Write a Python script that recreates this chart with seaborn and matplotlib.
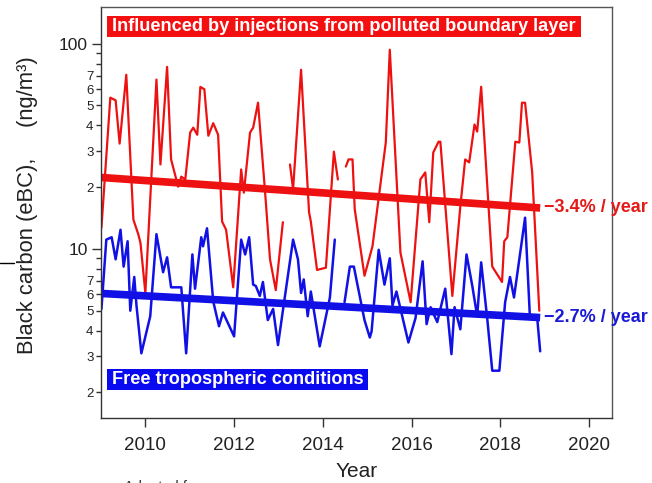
import numpy as np
import pandas as pd
import matplotlib
matplotlib.use("Agg")
import matplotlib.pyplot as plt
from matplotlib.lines import Line2D
from matplotlib.patches import Rectangle
import seaborn as sns

# Monthly eBC (ng/m3) at decimal-year positions; None marks missing data
pbl_years = [2009.01, 2009.21, 2009.33, 2009.42, 2009.57, 2009.73, 2009.84, 2009.89,
             2010.00, 2010.25, 2010.34, 2010.49, 2010.58, 2010.74, 2010.81, 2010.90,
             2011.01, 2011.08, 2011.17, 2011.24, 2011.33, 2011.42, 2011.53, 2011.64,
             2011.73, 2011.82, 2011.98, 2012.16, 2012.22, 2012.36, 2012.43, 2012.54,
             2012.70, 2012.81, 2012.94, 2013.10, None,
             2013.26, 2013.33, 2013.51, 2013.69, 2013.73, 2013.87, 2014.07, 2014.25,
             2014.34, None,
             2014.52, 2014.58, 2014.67, 2014.72, 2014.94, 2015.12, 2015.42, 2015.51,
             2015.75, 2015.98, 2016.20, 2016.31, 2016.40, 2016.49, 2016.61, 2016.65,
             2016.92, 2017.10, 2017.21, 2017.30, 2017.42, 2017.48, 2017.57, 2017.82,
             2018.04, 2018.09, 2018.16, 2018.34, 2018.43, 2018.49, 2018.56, 2018.72,
             2018.88]
pbl_ebc = [12.7, 54.6, 53.0, 32.6, 70.6, 13.9, 11.8, 10.7,
           6.1, 66.9, 25.8, 77.1, 27.3, 20.1, 22.5, 21.8,
           36.9, 39.0, 36.0, 61.6, 60.0, 35.6, 41.0, 36.0,
           13.6, 12.4, 6.5, 24.4, 18.8, 36.9, 39.0, 51.6,
           18.8, 8.9, 6.3, 13.5, None,
           25.8, 19.5, 74.7, 15.1, 13.6, 7.9, 8.1, 29.8,
           21.8, None,
           25.2, 27.3, 27.3, 15.6, 7.4, 10.3, 33.0, 93.5,
           9.6, 5.5, 21.8, 23.6, 13.5, 29.5, 33.3, 33.3,
           5.9, 16.1, 27.3, 26.4, 40.4, 37.3, 61.7, 8.2,
           6.9, 10.9, 11.4, 33.3, 33.0, 51.6, 51.6, 23.6,
           5.0]

ft_years = [2009.01, 2009.12, 2009.24, 2009.33, 2009.44, 2009.51, 2009.60, 2009.66,
            2009.75, 2009.80, 2009.91, 2010.11, 2010.25, 2010.40, 2010.49, 2010.58,
            2010.81, 2010.92, 2011.06, 2011.12, 2011.26, 2011.30, 2011.39, 2011.53,
            2011.66, 2011.75, 2012.00, 2012.16, 2012.25, 2012.34, 2012.43, 2012.49,
            2012.58, 2012.65, 2012.76, 2012.88, 2012.99, 2013.10, 2013.33, 2013.44,
            2013.51, 2013.57, 2013.66, 2013.73, 2013.93, 2014.16, 2014.27, None,
            2014.49, 2014.61, 2014.70, 2014.94, 2015.06, 2015.10, 2015.26, 2015.39,
            2015.51, 2015.57, 2015.66, 2015.93, 2016.09, 2016.25, 2016.34, 2016.43,
            2016.58, 2016.76, 2016.90, 2016.97, 2017.10, 2017.24, 2017.37, 2017.48,
            2017.57, 2017.71, 2017.82, 2017.98, 2018.11, 2018.22, 2018.31, 2018.56,
            2018.67, 2018.83, 2018.90]
ft_ebc = [5.1, 11.1, 11.4, 8.9, 12.4, 8.2, 10.9, 5.0,
          7.3, 5.3, 3.1, 4.7, 11.8, 7.7, 9.1, 6.5,
          6.5, 3.1, 9.4, 6.4, 11.4, 10.3, 12.6, 5.55,
          4.2, 4.9, 3.75, 11.1, 9.4, 11.4, 6.7, 6.6,
          5.9, 6.9, 4.5, 5.1, 3.4, 5.0, 11.1, 8.9,
          6.1, 7.1, 4.7, 6.2, 3.35, 5.8, 11.1, None,
          5.5, 8.2, 8.2, 4.5, 3.7, 3.97, 9.9, 6.7,
          9.0, 5.3, 6.2, 3.5, 4.6, 8.7, 4.3, 5.2,
          4.4, 6.4, 3.07, 5.2, 4.06, 9.4, 6.6, 4.7,
          8.6, 4.5, 2.55, 2.55, 5.5, 7.3, 5.8, 14.2,
          4.6, 4.7, 3.17]

# Linear trends in log space (percent change per year)
trend_years = [2009.0, 2018.9]
pbl_trend_start = 22.3
ft_trend_start = 6.07
pbl_rate = -3.4
ft_rate = -2.7

pbl_label = "Influenced by injections from polluted boundary layer"
ft_label = "Free tropospheric conditions"

x_ticks = [2010, 2012, 2014, 2016, 2018, 2020]
y_major = [10, 100]
y_minor = [2, 3, 4, 5, 6, 7, 8, 9, 20, 30, 40, 50, 60, 70, 80, 90]
y_minor_labels = ["2", "3", "4", "5", "6", "7", "", "",
                  "2", "3", "4", "5", "6", "7", "", ""]

RED = "#EE1111"
BLUE = "#1111E6"


def segments(years, values):
    rows, seg = [], 0
    for t, v in zip(years, values):
        if v is None:
            seg += 1
            continue
        rows.append((t, v, seg))
    return pd.DataFrame(rows, columns=["year", "ebc", "segment"])


def trend(start, rate):
    t0 = trend_years[0]
    vals = [start * (1 + rate / 100) ** (t - t0) for t in trend_years]
    return pd.DataFrame({"year": trend_years, "ebc": vals, "segment": 0})


sns.set_theme(style="ticks")
plt.rcParams["font.family"] = ["Liberation Sans", "DejaVu Sans"]

fig = plt.figure(figsize=(6.52, 4.83), dpi=100)
ax = fig.add_axes([0.1549, 0.1346, 0.7838, 0.8509])

pbl_df = segments(pbl_years, pbl_ebc)
ft_df = segments(ft_years, ft_ebc)
pbl_tr = trend(pbl_trend_start, pbl_rate)
ft_tr = trend(ft_trend_start, ft_rate)

sns.lineplot(data=pbl_df, x="year", y="ebc", units="segment", estimator=None,
             color=RED, lw=1.6, ax=ax)
sns.lineplot(data=ft_df, x="year", y="ebc", units="segment", estimator=None,
             color=BLUE, lw=1.8, ax=ax)
sns.lineplot(data=pbl_tr, x="year", y="ebc", color=RED, lw=5.5, ax=ax,
             solid_capstyle="butt")
sns.lineplot(data=ft_tr, x="year", y="ebc", color=BLUE, lw=5.5, ax=ax,
             solid_capstyle="butt")

ax.set_yscale("log")
ax.set_xlim(2009.0, 2020.52)
ax.set_ylim(1.5, 151)

ax.set_xticks(x_ticks)
ax.set_xticklabels([str(t) for t in x_ticks])
ax.set_yticks(y_major)
ax.set_yticklabels([str(t) for t in y_major])
ax.set_yticks(y_minor, labels=y_minor_labels, minor=True)
ax.xaxis.set_minor_locator(matplotlib.ticker.NullLocator())

ax.tick_params(axis="x", direction="out", length=6.5, width=1.0, pad=7,
               labelsize=13.5, colors="#333333", labelcolor="#222222")
ax.tick_params(axis="y", which="major", direction="out", length=6.5, width=1.0,
               pad=3, labelsize=12.5, colors="#333333", labelcolor="#222222")
ax.tick_params(axis="y", which="minor", direction="out", length=3.5, width=1.0,
               pad=2, labelsize=9.5, colors="#333333", labelcolor="#222222")

for name, sp in ax.spines.items():
    sp.set_visible(True)
    sp.set_linewidth(1.0)
    sp.set_color("#333333" if name in ("left", "bottom") else "#555555")

ax.set_xlabel("Year", fontsize=15, color="#222222")
ax.set_ylabel("Black carbon (eBC),     (ng/m\u00b3)", fontsize=15.8, color="#222222")
ax.xaxis.set_label_coords(0.5, -0.108)
ax.yaxis.set_label_coords(-0.124, 0.518)

# Category tags
ax.add_patch(Rectangle((0.0117, 0.927), 0.928, 0.051, transform=ax.transAxes,
                       facecolor="#F41010", edgecolor="none", zorder=5))
ax.text(0.0215, 0.9525, pbl_label, transform=ax.transAxes, color="white",
        fontsize=13.1, fontweight="bold", va="center", ha="left", zorder=6)
ax.add_patch(Rectangle((0.0117, 0.068), 0.511, 0.051, transform=ax.transAxes,
                       facecolor="#0A0AF0", edgecolor="none", zorder=5))
ax.text(0.0215, 0.0935, ft_label, transform=ax.transAxes, color="white",
        fontsize=13.1, fontweight="bold", va="center", ha="left", zorder=6)

# Trend annotations at the end of each fitted line
for df, rate, col in [(pbl_tr, pbl_rate, "#E41A1A"), (ft_tr, ft_rate, "#1A1AD6")]:
    ax.annotate(f"\u2212{abs(rate)}% / year", xy=(df["year"].iloc[-1], df["ebc"].iloc[-1]),
                xytext=(3, 0), textcoords="offset points", va="center", ha="left",
                color=col, fontsize=13, fontweight="bold", annotation_clip=False)

fig.add_artist(Line2D([0, 14 / 652], [1 - 263 / 483] * 2, transform=fig.transFigure,
                      color="black", lw=1.0))
fig.text(124 / 652, -8 / 483, "Adapted from:", fontsize=10.5, color="#333333",
         va="baseline", ha="left")

fig.savefig("out.png", dpi=100)
